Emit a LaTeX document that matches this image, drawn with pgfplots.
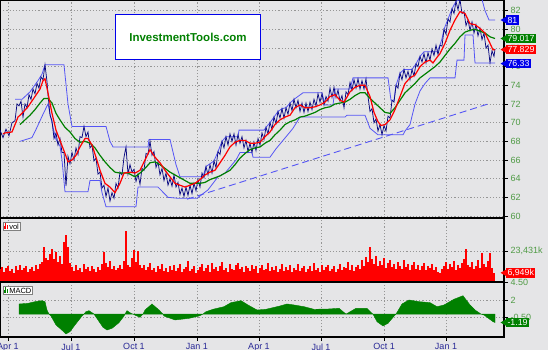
\documentclass[border=0pt]{standalone}
\usepackage{pgfplots}
\pgfplotsset{compat=1.18}
\usepackage{fontspec}
\setmainfont{Liberation Sans}
\definecolor{bgc}{RGB}{229,229,231}
\definecolor{gridc}{RGB}{150,150,150}
\definecolor{navyc}{RGB}{10,10,130}
\definecolor{chan}{RGB}{85,85,245}
\definecolor{mag}{RGB}{0,128,0}
\definecolor{tickg}{RGB}{80,155,70}
\definecolor{xlab}{RGB}{40,40,150}
\definecolor{bblue}{RGB}{0,0,235}
\pgfplotsset{
 panel/.style={scale only axis, width=504pt, xmin=0, xmax=504,
  grid=major, major grid style={gridc, dash pattern=on 1.2pt off 2pt, line width=0.6pt},
  axis line style={black, line width=1.2pt},
  ytick pos=right, yticklabel pos=right, tick align=outside,
  major tick length=4pt, minor tick length=3pt,
  tick style={black, line width=0.7pt},
  yticklabel style={font=\fontsize{9}{10}\selectfont, text=tickg, xshift=-1pt},
  xtick={8,71,134,197,259,321,384,446}},
}
\begin{document}
\begin{tikzpicture}
\useasboundingbox (0,-350pt) rectangle (548pt,0pt);
\fill[bgc] (0,-350pt) rectangle (548pt,0pt);
% ---------------- main price panel
\begin{axis}[panel, at={(0pt,0pt)}, anchor=north west, height=218pt,
  ymin=59.786, ymax=83.143, ytick={60,62,...,82},
  yticklabels={60,62,64,66,68,70,72,74,76,78,80,82},
  xticklabels={}, xtick style={draw=none}]
% trend line
\addplot[chan, line width=0.9pt, dash pattern=on 7pt off 4pt] coordinates {(187,61.8) (488,72.0)};
% upper channel
\addplot[chan, line width=0.8pt] coordinates {
(15,72.5) (22,72.5) (26,72.9) (30,73.3) (34,73.9) (38,74.5) (42,75.2) (45,76.2) (64,76.2) (68,72.0) (72,69.6)
(106,69.6) (110,68.0) (113,67.4) (148,67.4) (149,68.2) (170,68.2) (176,65.5) (180,64.2) (203,64.2) (206,65.3)
(214,65.9) (218,66.9) (222,68.0) (226,68.5) (238,68.5) (239,69.2) (264,69.2) (266,69.5) (270,70.0) (274,70.6)
(278,71.2) (282,71.5) (286,71.6) (290,72.1) (294,72.5) (303,73.2) (322,73.2) (325,71.9) (333,71.9) (335,73.6)
(350,73.6) (353,74.8) (388,74.8) (391,72.4) (394,72.4) (396,74.0) (400,75.3) (404,75.7) (412,75.7) (416,76.3)
(420,77.1) (424,77.6) (437,77.6) (440,78.3) (442,79.0) (444,80.0) (448,81.1) (452,82.2) (456,83.0) (460,83.2)
(482,83.2) (485,82.0) (489,81.0) (495,81.0)};
% lower channel
\addplot[chan, line width=0.8pt] coordinates {
(20,68.0) (32,68.4) (37,69.5) (43,70.9) (48,72.0) (50,71.0) (53,69.5) (56,68.2) (60,67.5) (62,66.0) (65,62.6)
(88,62.6) (90,63.8) (100,63.8) (102,62.5) (106,61.0) (136,61.0) (138,63.1) (158,63.1) (168,62.0) (178,61.9)
(197,61.9) (208,62.8) (218,64.2) (225,64.6) (232,65.5) (236,66.0) (240,66.8) (252,66.8) (253,66.3) (270,66.3)
(276,67.2) (283,68.1) (290,69.0) (293,69.4) (300,70.6) (345,70.6) (347,70.8) (365,70.8) (370,69.4) (378,68.7)
(403,68.7) (405,69.1) (410,69.8) (415,72.0) (420,73.4) (425,74.2) (430,74.8) (455,74.8) (457,76.7) (464,76.7)
(465,79.4) (473,79.4) (475,76.4) (495,76.4)};
% price (high/low bars)
\addplot[navyc, line width=0.75pt] coordinates {
(0,69.2) (3,68.4) (6,69.3) (9,68.6) (12,70.0) (15,70.2) (17,72.0) (19,71.8) (21,72.3) (23,70.6) (25,72.0) (27,71.6)
(29,73.0) (31,72.5) (33,73.6) (35,73.1) (37,74.2) (39,73.7) (41,74.9) (43,74.6) (45,76.2) (47,74.4) (48,73.0) (50,70.8)
(52,70.2) (54,68.3) (56,68.9) (58,67.6) (60,68.3) (62,66.8) (64,66.8) (66,63.2) (68,66.4) (70,65.6) (72,66.8) (74,66.0)
(76,67.3) (78,66.6) (80,68.5) (82,68.4) (84,69.6) (86,68.5) (88,69.0) (90,67.3) (92,67.6) (94,65.9) (96,66.2) (98,64.5)
(100,64.7) (102,63.0) (104,63.3) (106,62.1) (108,63.0) (110,61.6) (112,62.5) (114,61.9) (116,63.5) (118,63.0) (120,64.7)
(122,64.4) (124,66.3) (126,67.4) (128,64.5) (130,65.5) (132,64.7) (134,65.0) (136,63.7) (138,64.5) (140,63.4) (142,65.1)
(144,64.9) (146,66.7) (148,66.6) (150,68.0) (152,66.5) (154,66.9) (156,65.2) (158,65.8) (160,64.4) (162,65.1) (164,63.8)
(166,64.6) (168,63.3) (170,64.0) (172,63.2) (174,64.4) (176,63.1) (178,63.6) (180,62.3) (182,63.0) (184,62.1) (186,63.1)
(188,62.2) (190,63.3) (192,62.4) (194,63.5) (196,62.7) (198,63.9) (200,63.1) (202,64.6) (204,64.1) (206,65.3) (208,64.4)
(210,65.5) (212,64.6) (214,65.9) (216,65.2) (218,66.9) (220,66.6) (222,68.0) (224,67.3) (226,68.5) (228,67.6) (230,68.8)
(232,68.0) (234,68.8) (236,67.6) (238,68.7) (240,67.8) (242,68.5) (244,67.3) (246,68.1) (248,66.9) (250,67.8) (252,66.8)
(254,67.9) (256,67.0) (258,68.3) (260,67.6) (262,68.9) (264,68.2) (266,69.5) (268,68.8) (270,70.0) (272,69.3) (274,70.6)
(276,69.9) (278,71.2) (280,70.5) (282,71.5) (284,70.5) (286,71.6) (288,70.9) (290,72.1) (292,71.3) (294,72.5) (296,71.6)
(298,72.4) (300,71.2) (302,72.1) (304,71.1) (306,72.1) (308,71.2) (310,72.2) (312,71.4) (314,72.5) (316,71.8) (318,73.1)
(320,72.2) (322,73.1) (324,71.9) (326,72.8) (328,72.3) (330,73.7) (332,72.7) (334,73.8) (336,72.7) (338,73.5) (340,72.3)
(342,72.9) (344,71.6) (346,73.3) (348,73.0) (350,74.3) (352,73.5) (354,74.6) (356,73.7) (358,74.7) (360,73.6) (362,74.5)
(364,73.6) (366,74.7) (368,72.8) (370,71.2) (372,71.5) (374,70.0) (376,70.4) (378,69.1) (380,69.8) (382,68.7) (384,69.7)
(386,69.1) (388,70.7) (390,70.5) (392,72.4) (394,72.2) (396,74.0) (398,73.7) (400,75.3) (402,74.6) (404,75.7) (406,74.8)
(408,75.5) (410,74.6) (412,75.7) (414,75.0) (416,76.3) (418,76.0) (420,77.1) (422,76.5) (424,77.4) (426,76.4) (428,77.5)
(430,76.7) (432,77.9) (434,77.2) (436,78.3) (438,77.3) (440,78.3) (442,78.2) (444,80.0) (446,79.5) (448,81.1) (450,80.8)
(452,82.2) (454,81.7) (456,83.0) (458,82.1) (460,83.2) (462,81.7) (464,81.9) (466,80.4) (468,81.0) (470,79.9) (472,80.8)
(474,79.6) (476,80.5) (478,79.3) (480,80.1) (482,78.9) (484,79.6) (486,78.0) (488,78.3) (490,76.4) (492,77.7) (494,77.1) (495,77.9)};
% long moving average
\addplot[mag, line width=1.2pt] coordinates {
(20,69.8) (25,70.3) (30,70.8) (35,71.4) (40,72.1) (44,72.6) (48,72.6) (52,72.1) (56,71.0) (60,70.3) (65,69.5) (70,69.0)
(75,68.3) (80,67.9) (85,68.0) (90,67.8) (95,67.3) (100,66.5) (105,65.8) (110,65.2) (115,64.7) (120,64.6) (128,64.6)
(135,64.2) (140,64.6) (145,65.1) (150,65.7) (155,65.8) (160,65.5) (165,65.1) (170,64.7) (175,64.4) (180,64.1) (185,63.8)
(190,63.5) (200,63.5) (205,63.6) (210,63.9) (215,64.1) (220,64.3) (225,64.6) (230,64.9) (235,65.5) (240,66.2) (245,66.7)
(250,67.1) (255,67.3) (260,67.4) (265,67.8) (270,68.1) (275,68.7) (280,69.2) (285,69.8) (290,70.1) (295,70.3) (300,70.6)
(305,70.7) (310,70.9) (315,71.1) (320,71.4) (325,71.6) (330,71.7) (335,72.0) (340,72.1) (345,72.2) (350,72.5) (355,72.9)
(360,73.2) (365,73.2) (370,72.6) (375,72.1) (380,71.6) (385,71.1) (390,71.0) (395,71.6) (400,72.4) (405,73.2) (410,73.7)
(415,74.2) (420,74.8) (425,75.2) (430,75.6) (435,76.0) (440,76.5) (445,77.2) (450,77.9) (455,78.5) (460,79.2) (465,79.7)
(470,79.9) (475,80.0) (480,79.8) (485,79.6) (490,79.2) (495,79.02)};
% short moving average
\addplot[red, line width=1.2pt] coordinates {
(3,68.8) (5,68.9) (12,69.0) (18,70.6) (22,71.0) (28,71.7) (35,72.8) (40,73.6) (43,74.5) (45,74.7) (48,73.2) (52,71.0)
(56,69.2) (60,68.1) (65,66.7) (68,65.8) (72,66.0) (76,66.5) (80,67.4) (85,68.3) (88,68.3) (92,67.6) (96,66.3) (100,64.9)
(105,63.5) (110,63.1) (115,62.5) (120,63.5) (124,64.6) (130,64.7) (135,64.6) (140,64.9) (145,66.0) (150,67.1) (155,66.3)
(160,65.7) (165,64.9) (170,64.2) (175,63.5) (180,63.3) (185,63.1) (190,63.3) (195,63.5) (200,63.9) (205,64.4) (210,64.7)
(215,64.9) (220,65.7) (225,66.5) (230,67.4) (235,67.9) (240,68.1) (245,68.1) (250,67.8) (255,67.8) (260,67.9) (265,68.5)
(270,69.0) (275,69.8) (280,70.3) (285,70.6) (290,70.8) (295,71.6) (300,71.9) (305,71.6) (310,71.6) (315,71.7) (320,71.9)
(325,72.2) (330,72.8) (335,73.0) (340,72.4) (344,72.2) (350,73.3) (355,73.8) (360,74.0) (365,74.0) (370,72.8) (374,71.1)
(378,70.1) (381,69.7) (385,69.8) (390,70.3) (395,71.4) (400,72.8) (405,74.2) (410,74.8) (415,75.1) (420,76.0) (425,76.5)
(430,76.7) (433,76.4) (437,77.0) (440,77.4) (445,78.5) (450,79.9) (455,81.0) (460,81.9) (465,81.7) (470,80.6) (475,80.5)
(480,80.1) (485,79.6) (490,78.5) (493,77.8) (495,77.83)};
\coordinate (bU) at (axis cs:504,81);
\coordinate (bG) at (axis cs:504,79.017);
\coordinate (bR) at (axis cs:504,77.829);
\coordinate (bL) at (axis cs:504,76.33);
\end{axis}
% ---------------- volume panel
\begin{axis}[panel, at={(0pt,-218pt)}, anchor=north west, height=64pt,
  ymin=0, ymax=48.373, ytick={23.431}, yticklabels={23{,}431k},
  xticklabels={}, xtick style={draw=none}]
\addplot[ycomb, red, line width=1.1pt] coordinates {
(0,9.5) (2,11.2) (4,7.8) (6,10.6) (8,12.4) (10,8.3) (12,10.1) (14,6.9) (16,11.8) (18,9.2) (20,13.1) (22,8.7) (24,10.4)
(26,12.0) (28,7.5) (30,9.9) (32,11.4) (34,8.1) (36,12.7) (38,10.2) (40,13.5) (42,14.8) (44,26.5) (46,18.2) (48,16.4)
(50,21.5) (52,24.8) (54,17.3) (56,22.6) (58,15.1) (60,19.7) (62,13.8) (64,30.0) (66,35.5) (68,26.2) (70,14.6) (72,11.2)
(74,8.6) (76,12.9) (78,9.4) (80,10.8) (82,7.7) (84,13.4) (86,9.9) (88,11.5) (90,8.2) (92,12.2) (94,10.1) (96,7.4) (98,11.7)
(100,9.0) (102,13.8) (104,23.0) (106,14.5) (108,11.0) (110,16.2) (112,9.7) (114,12.4) (116,8.8) (118,10.9) (120,13.2)
(122,9.5) (124,15.8) (126,38.6) (128,12.6) (130,11.3) (132,18.5) (134,24.0) (136,15.2) (138,23.6) (140,13.0) (142,10.4)
(144,12.8) (146,8.9) (148,11.6) (150,14.3) (152,9.2) (154,10.7) (156,7.9) (158,12.1) (160,9.6) (162,13.7) (164,8.4)
(166,10.9) (168,7.2) (170,11.8) (172,9.1) (174,12.5) (176,8.0) (178,10.3) (180,13.9) (182,7.6) (184,9.8) (186,11.4)
(188,15.6) (190,8.5) (192,10.0) (194,12.2) (196,6.8) (198,9.4) (200,11.6) (202,13.9) (204,8.2) (206,10.5) (208,12.8)
(210,7.7) (212,14.6) (214,9.9) (216,11.3) (218,8.6) (220,12.1) (222,15.2) (224,9.0) (226,10.8) (228,7.4) (230,13.3)
(232,10.2) (234,8.8) (236,12.6) (238,14.1) (240,9.5) (242,11.0) (244,7.9) (246,12.4) (248,10.6) (250,8.3) (252,13.0)
(254,9.7) (256,11.8) (258,7.1) (260,10.4) (262,12.9) (264,8.7) (266,9.9) (268,14.0) (270,8.1) (272,11.2) (274,9.3)
(276,12.3) (278,7.6) (280,10.0) (282,13.6) (284,8.4) (286,11.5) (288,9.2) (290,12.7) (292,7.8) (294,10.7) (296,9.0)
(298,13.8) (300,8.0) (302,10.9) (304,12.0) (306,7.3) (308,9.6) (310,11.9) (312,8.5) (314,14.4) (316,9.4) (318,10.3)
(320,7.7) (322,12.5) (324,9.1) (326,11.1) (328,13.2) (330,8.2) (332,10.1) (334,12.2) (336,7.5) (338,9.8) (340,13.5)
(342,8.9) (344,11.7) (346,10.4) (348,15.0) (350,9.3) (352,12.6) (354,8.6) (356,11.4) (358,13.0) (360,9.7) (362,16.4)
(364,12.1) (366,18.6) (368,14.9) (370,26.7) (372,17.2) (374,13.4) (376,19.5) (378,11.8) (380,15.7) (382,12.9) (384,17.8)
(386,10.6) (388,14.2) (390,16.9) (392,11.3) (394,13.7) (396,9.8) (398,15.1) (400,12.4) (402,10.2) (404,16.3) (406,11.6)
(408,13.9) (410,8.7) (412,12.8) (414,15.4) (416,10.0) (418,13.1) (420,9.4) (422,11.9) (424,14.6) (426,8.8) (428,12.2)
(430,10.5) (432,13.6) (434,9.1) (436,11.4) (438,7.9) (440,6.5) (442,9.6) (444,12.3) (446,14.8) (448,10.1) (450,13.4)
(452,11.0) (454,15.9) (456,9.3) (458,12.7) (460,10.8) (462,14.1) (464,17.5) (466,25.0) (468,13.2) (470,11.6) (472,15.3)
(474,9.9) (476,12.0) (478,16.7) (480,10.4) (482,21.6) (484,13.8) (486,11.2) (488,15.5) (490,21.6) (492,10.3) (494,6.949)};
\coordinate (bV) at (axis cs:504,6.949);
\coordinate (legV) at (rel axis cs:0,1);
\end{axis}
% ---------------- MACD panel
\begin{axis}[panel, at={(0pt,-282pt)}, anchor=north west, height=55pt,
  ymin=-3.24, ymax=4.54, ytick={-0.5,2,4.5}, yticklabels={-0.50,2,4.50},
  xtick pos=bottom, minor x tick num=3,
  xticklabels={Apr 1,Jul 1,Oct 1,Jan 1,Apr 1,Jul 1,Oct 1,Jan 1},
  xticklabel style={font=\fontsize{9}{10}\selectfont, text=xlab, yshift=1pt}]
\addplot[fill=mag, draw=mag, line width=0.4pt] coordinates {
(19,0) (19,1.43) (28,1.52) (35,1.76) (42,1.9) (45,1.76) (47,0.58) (49,0) (51,-0.27) (56,-1.54) (61,-2.15) (66,-2.81)
(70,-2.48) (75,-1.54) (82,-0.27) (84,0) (86,0.34) (89,0.48) (93,0.1) (94,0) (98,-0.83) (103,-1.87) (107,-2.25) (112,-2.01)
(119,-1.21) (124,-0.27) (125,0) (127,0.48) (131,0.1) (133,0) (137,-0.27) (140,-0.45) (143,0) (145,0.58) (152,1.43)
(159,0.58) (163,0) (164,-0.27) (175,-0.83) (189,-0.6) (199,-0.27) (203,0) (206,0.34) (213,0.68) (224,1.05) (231,1.62)
(241,1.9) (248,1.29) (257,0.58) (266,0.68) (280,1.15) (287,1.43) (294,1.29) (304,1.05) (314,0.68) (328,0.72) (339,0.82)
(346,0) (356,0.82) (367,0.82) (372,0.1) (373,0) (377,-1.07) (383,-1.68) (388,-1.3) (395,-0.13) (396,0) (402,1.43)
(409,2.0) (419,1.76) (430,1.62) (437,1.05) (444,1.29) (454,2.1) (463,2.6) (470,1.29) (475,0.58) (481,0) (484,-0.13)
(493,-1.07) (495,-1.19) (495,0)} \closedcycle;
\coordinate (bM) at (axis cs:504,-1.19);
\coordinate (legM) at (rel axis cs:0,1);
\end{axis}
% ---------------- annotations
\node[draw=bblue, line width=1.6pt, fill=white, minimum width=145pt, minimum height=45pt,
  font=\fontsize{11.5}{13}\selectfont\bfseries, text=mag] at (188pt,-37pt) {InvestmentTools.com};
\tikzset{badge/.style={anchor=west, inner sep=1.3pt, text=white, font=\fontsize{8.8}{9.5}\selectfont, minimum height=9.5pt}}
\foreach \c/\col/\t in {bU/bblue/81, bG/mag/79.017, bR/red/77.829, bL/bblue/76.33, bV/red/{6,949k}, bM/mag/-1.19}{
  \fill[\col] ([xshift=-3.5pt]\c) -- ++(5.5pt,3.2pt) -- ++(0,-6.4pt) -- cycle;
  \node[badge, fill=\col] at ([xshift=2pt]\c) {\t};
}
\node[draw=gray, fill=white, anchor=north west, inner sep=1pt, font=\fontsize{7.5}{8}\selectfont]
  at ([xshift=3pt,yshift=-4pt]legV) {\textcolor{red}{\rule{0.6pt}{3pt}\hspace{0.6pt}\rule{0.6pt}{6pt}\hspace{0.6pt}\rule{0.6pt}{4pt}}\ vol};
\node[draw=gray, fill=white, anchor=north west, inner sep=1pt, font=\fontsize{7.5}{8}\selectfont]
  at ([xshift=3pt,yshift=-4pt]legM) {\textcolor{mag}{\rule{0.6pt}{3pt}\hspace{0.6pt}\rule{0.6pt}{6pt}\hspace{0.6pt}\rule{0.6pt}{4pt}}\ MACD};
\end{tikzpicture}
\end{document}
